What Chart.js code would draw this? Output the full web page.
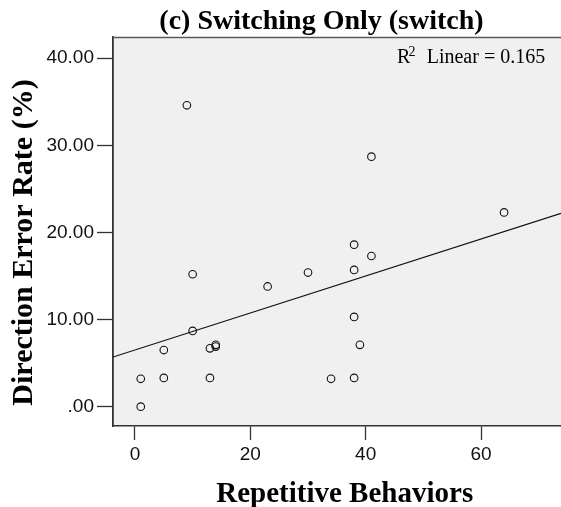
<!DOCTYPE html>
<html><head><meta charset="utf-8">
<script src="https://cdn.jsdelivr.net/npm/chart.js@4/dist/chart.umd.min.js"></script>
<style>html,body{margin:0;padding:0;background:#fff;} #wrap{width:561px;height:507px;position:relative;}</style>
</head><body><div id="wrap"><canvas id="c" width="561" height="507"></canvas></div>
<script>
const chartTitle = '(c) Switching Only (switch)';
const xAxisTitle = 'Repetitive Behaviors';
const yAxisTitle = 'Direction Error Rate (%)';
const fitLabel = 'Linear = 0.165';

const repetitiveBehaviors = [1, 1, 5, 5, 9, 10, 10, 13, 13, 14, 14, 23, 30, 34, 38, 38, 38, 38, 39, 41, 41, 64];
const directionErrorRate = [0, 3.2, 3.3, 6.5, 34.6, 8.7, 15.2, 3.3, 6.7, 7.1, 6.9, 13.8, 15.4, 3.2, 3.3, 10.3, 15.7, 18.6, 7.1, 17.3, 28.7, 22.3];

const xTickValues = [0, 20, 40, 60];
const xTickLabels = ['0', '20', '40', '60'];
const yTickValues = [0, 10, 20, 30, 40];
const yTickLabels = ['.00', '10.00', '20.00', '30.00', '40.00'];

const xMin = -3.81, xMax = 73.87;
const yMin = -2.22, yMax = 42.44;

const fitIntercept = 6.51;
const fitSlope = 0.2124;

const points = repetitiveBehaviors.map((x, i) => ({x: x, y: directionErrorRate[i]}));
const fitLine = [xMin, xMax].map(x => ({x: x, y: fitIntercept + fitSlope * x}));

const bgPlugin = {
  id: 'bg',
  beforeDraw(chart) {
    const {ctx, chartArea: a} = chart;
    ctx.save();
    ctx.fillStyle = '#f0f0f0';
    ctx.fillRect(a.left, a.top, a.right - a.left, a.bottom - a.top);
    ctx.restore();
  },
  afterDraw(chart) {
    const {ctx, chartArea: a} = chart;
    ctx.save();
    ctx.strokeStyle = '#5a5a5a';
    ctx.lineWidth = 1.5;
    ctx.beginPath();
    ctx.moveTo(a.left, a.top + 0.5);
    ctx.lineTo(a.right, a.top + 0.5);
    ctx.stroke();

    ctx.fillStyle = '#000';
    ctx.textAlign = 'center';
    ctx.textBaseline = 'alphabetic';
    ctx.font = 'bold 28px "Liberation Serif", "Times New Roman", serif';
    ctx.fillText(chartTitle, 321.5, 29);

    ctx.font = 'bold 29px "Liberation Serif", "Times New Roman", serif';
    ctx.fillText(xAxisTitle, 344.7, 501.5);

    ctx.save();
    ctx.translate(31.7, 242.5);
    ctx.rotate(-Math.PI / 2);
    ctx.font = 'bold 30px "Liberation Serif", "Times New Roman", serif';
    ctx.fillText(yAxisTitle, 0, 0);
    ctx.restore();

    ctx.textAlign = 'left';
    ctx.font = '20px "Liberation Serif", "Times New Roman", serif';
    ctx.fillText('R', 397, 63.3);
    ctx.font = '14px "Liberation Serif", "Times New Roman", serif';
    ctx.fillText('2', 408.5, 56);
    ctx.font = '20px "Liberation Serif", "Times New Roman", serif';
    ctx.fillText(fitLabel, 426.7, 63.3);
    ctx.restore();
  }
};

new Chart(document.getElementById('c'), {
  type: 'scatter',
  data: {
    datasets: [
      {
        type: 'line',
        data: fitLine,
        borderColor: '#111',
        borderWidth: 1.2,
        pointRadius: 0,
        fill: false,
        order: 2
      },
      {
        data: points,
        pointRadius: 3.8,
        pointBorderWidth: 1.1,
        pointBorderColor: '#111',
        pointBackgroundColor: 'rgba(0,0,0,0)',
        showLine: false,
        order: 1
      }
    ]
  },
  options: {
    responsive: false,
    animation: false,
    devicePixelRatio: 1,
    layout: {autoPadding: false, padding: {top: 37, left: 0, right: 0, bottom: 0}},
    plugins: {legend: {display: false}, tooltip: {enabled: false}, title: {display: false}},
    scales: {
      x: {
        type: 'linear', position: 'bottom', min: xMin, max: xMax,
        afterFit: s => { s.height = 81; s.paddingLeft = 0; s.paddingRight = 0; },
        afterBuildTicks: s => { s.ticks = xTickValues.map(v => ({value: v})); },
        ticks: {
          callback: v => xTickLabels[xTickValues.indexOf(v)],
          font: {family: '"Liberation Sans", Arial, sans-serif', size: 19},
          color: '#111', padding: 3, maxRotation: 0, autoSkip: false
        },
        grid: {drawOnChartArea: false, drawTicks: true, tickLength: 14, tickColor: '#333', tickWidth: 1.3},
        border: {display: true, color: '#333', width: 1.5}
      },
      y: {
        type: 'linear', position: 'left', min: yMin, max: yMax,
        afterFit: s => { s.width = 113; s.paddingTop = 0; s.paddingBottom = 0; },
        afterBuildTicks: s => { s.ticks = yTickValues.map(v => ({value: v})); },
        ticks: {
          callback: v => yTickLabels[yTickValues.indexOf(v)],
          font: {family: '"Liberation Sans", Arial, sans-serif', size: 19},
          color: '#111', padding: 3, autoSkip: false
        },
        grid: {drawOnChartArea: false, drawTicks: true, tickLength: 16, tickColor: '#333', tickWidth: 1.3},
        border: {display: true, color: '#333', width: 1.8}
      }
    }
  },
  plugins: [bgPlugin]
});
</script>
</body></html>
